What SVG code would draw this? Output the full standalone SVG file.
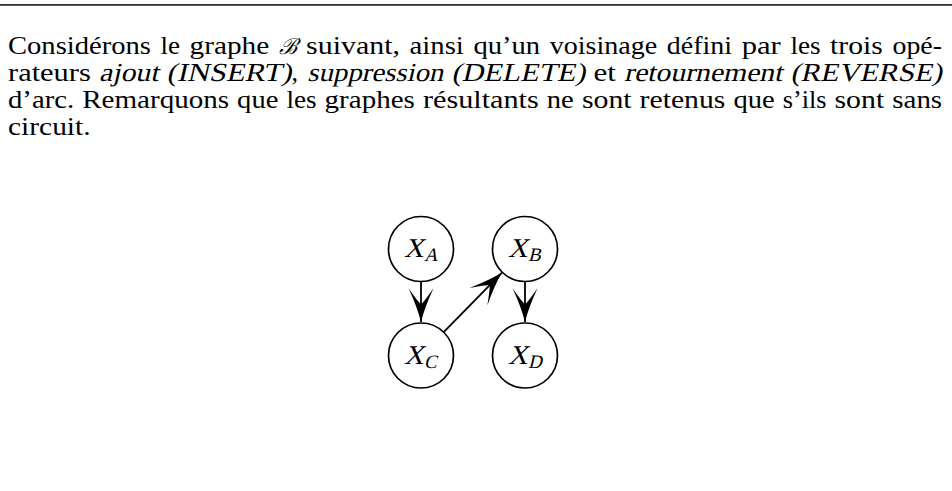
<svg xmlns="http://www.w3.org/2000/svg" width="952" height="491" viewBox="0 0 952 491">
<defs>
<style>
.t{font-family:"Liberation Serif","Times New Roman",serif;font-size:26px;fill:#000}
.node circle{fill:#fff;stroke:#000;stroke-width:1.7}
.lbl{font-family:"Liberation Serif","Times New Roman",serif;fill:#000;font-size:27px}
.sub{font-size:19px}
.edge{stroke:#000;stroke-width:1.8;fill:none}
</style>
<marker id="ah" markerUnits="userSpaceOnUse" markerWidth="40" markerHeight="40" viewBox="-30 -15 32 30" refX="0" refY="0" orient="auto">
<path d="M0,0 Q-12,-3 -27,-10 Q-17,-3 -14,0 Q-17,3 -27,10 Q-12,3 0,0 Z" fill="#000"/>
</marker>
</defs>
<rect x="0" y="0" width="952" height="491" fill="#fff"/>
<rect x="0" y="4" width="952" height="1.8" fill="#333"/>
<g id="text">
<text class="t" y="54"><tspan x="8" textLength="142.9" lengthAdjust="spacingAndGlyphs">Considérons</tspan> <tspan x="160.5" textLength="19.5" lengthAdjust="spacingAndGlyphs">le</tspan> <tspan x="189.6" textLength="79.6" lengthAdjust="spacingAndGlyphs">graphe</tspan> <tspan x="278.5" font-style="italic" font-size="22">ℬ</tspan> <tspan x="306.1" textLength="93.9" lengthAdjust="spacingAndGlyphs">suivant,</tspan> <tspan x="409.6" textLength="54.2" lengthAdjust="spacingAndGlyphs">ainsi</tspan> <tspan x="473.4" textLength="66.8" lengthAdjust="spacingAndGlyphs">qu’un</tspan> <tspan x="549.8" textLength="107.4" lengthAdjust="spacingAndGlyphs">voisinage</tspan> <tspan x="666.8" textLength="65.3" lengthAdjust="spacingAndGlyphs">défini</tspan> <tspan x="741.7" textLength="39.1" lengthAdjust="spacingAndGlyphs">par</tspan> <tspan x="790.4" textLength="30.1" lengthAdjust="spacingAndGlyphs">les</tspan> <tspan x="830.1" textLength="52.7" lengthAdjust="spacingAndGlyphs">trois</tspan> <tspan x="892.5" textLength="49.5" lengthAdjust="spacingAndGlyphs">opé-</tspan></text>
<text class="t" x="8" y="81" textLength="82.8" lengthAdjust="spacingAndGlyphs">rateurs</text>
<text class="t" transform="translate(99,81) skewX(-13)"><tspan x="0" textLength="59.4" lengthAdjust="spacingAndGlyphs">ajout</tspan> <tspan x="67.5" textLength="125" lengthAdjust="spacingAndGlyphs">(INSERT)</tspan></text>
<text class="t" x="291.5" y="81">,</text>
<text class="t" transform="translate(307.2,81) skewX(-13)"><tspan x="0" textLength="136" lengthAdjust="spacingAndGlyphs">suppression</tspan> <tspan x="144.3" textLength="133.7" lengthAdjust="spacingAndGlyphs">(DELETE)</tspan></text>
<text class="t" x="593.4" y="81" textLength="22.5" lengthAdjust="spacingAndGlyphs">et</text>
<text class="t" transform="translate(624,81) skewX(-13)"><tspan x="0" textLength="158.2" lengthAdjust="spacingAndGlyphs">retournement</tspan> <tspan x="166.4" textLength="151.6" lengthAdjust="spacingAndGlyphs">(REVERSE)</tspan></text>
<text class="t" y="108"><tspan x="8" textLength="66.1" lengthAdjust="spacingAndGlyphs">d’arc.</tspan> <tspan x="82.2" textLength="146.9" lengthAdjust="spacingAndGlyphs">Remarquons</tspan> <tspan x="237.1" textLength="41.3" lengthAdjust="spacingAndGlyphs">que</tspan> <tspan x="286.4" textLength="30.1" lengthAdjust="spacingAndGlyphs">les</tspan> <tspan x="324.6" textLength="90.2" lengthAdjust="spacingAndGlyphs">graphes</tspan> <tspan x="422.9" textLength="115.9" lengthAdjust="spacingAndGlyphs">résultants</tspan> <tspan x="546.8" textLength="27" lengthAdjust="spacingAndGlyphs">ne</tspan> <tspan x="581.9" textLength="49.7" lengthAdjust="spacingAndGlyphs">sont</tspan> <tspan x="639.6" textLength="85.7" lengthAdjust="spacingAndGlyphs">retenus</tspan> <tspan x="733.4" textLength="41.3" lengthAdjust="spacingAndGlyphs">que</tspan> <tspan x="782.7" textLength="43.8" lengthAdjust="spacingAndGlyphs">s’ils</tspan> <tspan x="834.5" textLength="49.7" lengthAdjust="spacingAndGlyphs">sont</tspan> <tspan x="892.3" textLength="49.8" lengthAdjust="spacingAndGlyphs">sans</tspan></text>
<text class="t" x="8" y="135" textLength="82.6" lengthAdjust="spacingAndGlyphs">circuit.</text>
</g>
<g id="connectors">
<line class="edge" x1="421" y1="282" x2="421" y2="322" marker-end="url(#ah)"/>
<line class="edge" x1="443.7" y1="332.2" x2="502" y2="272.6" marker-end="url(#ah)"/>
<line class="edge" x1="525" y1="282" x2="525" y2="322" marker-end="url(#ah)"/>
</g>
<g id="XA" class="node"><circle cx="421" cy="249" r="32.5"/><text class="lbl" transform="translate(404,257) skewX(-14)">X<tspan class="sub" x="21" dy="4">A</tspan></text></g>
<g id="XB" class="node"><circle cx="525" cy="249" r="32.5"/><text class="lbl" transform="translate(508,257) skewX(-14)">X<tspan class="sub" x="21" dy="4">B</tspan></text></g>
<g id="XC" class="node"><circle cx="421" cy="355.5" r="32.5"/><text class="lbl" transform="translate(404,363.5) skewX(-14)">X<tspan class="sub" x="21" dy="4">C</tspan></text></g>
<g id="XD" class="node"><circle cx="525" cy="355.5" r="32.5"/><text class="lbl" transform="translate(508,363.5) skewX(-14)">X<tspan class="sub" x="21" dy="4">D</tspan></text></g>
</svg>
